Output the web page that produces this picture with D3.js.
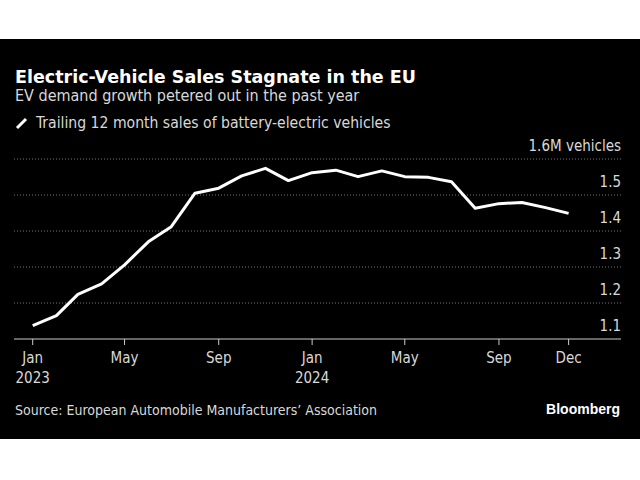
<!DOCTYPE html>
<html>
<head>
<meta charset="utf-8">
<script src="https://cdn.jsdelivr.net/npm/d3@7"></script>
<style>
  body { margin: 0; background: #fff; }
  text { font-family: "DejaVu Sans Condensed", "DejaVu Sans", sans-serif; }
</style>
</head>
<body>
<svg id="chart" width="640" height="480"></svg>
<script>
// dati: vendite trailing 12 mesi (milioni di veicoli)
const months = d3.range(24).map(i => new Date(2023, i, 1))
const sales = [1.137, 1.165, 1.224, 1.253, 1.306, 1.370, 1.412, 1.505, 1.519, 1.553, 1.574, 1.540,
               1.562, 1.569, 1.551, 1.567, 1.551, 1.549, 1.537, 1.463, 1.476, 1.479, 1.465, 1.449]
const yTicks = [1.1, 1.2, 1.3, 1.4, 1.5, 1.6]
const xTicks = [new Date(2023, 0, 1), new Date(2023, 4, 1), new Date(2023, 8, 1),
                new Date(2024, 0, 1), new Date(2024, 4, 1), new Date(2024, 8, 1), new Date(2024, 11, 1)]

const svg = d3.select('#chart')
const textColor = '#d9d9d9'

svg.append('rect').attr('x', 0).attr('y', 39).attr('width', 640).attr('height', 400).attr('fill', '#000')

const xScale = d3.scaleTime()
  .domain([new Date(2023, 0, 1), new Date(2024, 11, 1)])
  .range([32.7, 568.6])
const yScale = d3.scaleLinear()
  .domain([1.1, 1.6])
  .range([339, 159])

// titoli
svg.append('text').attr('x', 15).attr('y', 83).attr('fill', '#fff')
  .style('font-size', '17.5px').style('font-weight', 'bold').style('font-family', 'DejaVu Sans')
  .text('Electric-Vehicle Sales Stagnate in the EU')
svg.append('text').attr('x', 15).attr('y', 101).attr('fill', textColor)
  .style('font-size', '16px')
  .text('EV demand growth petered out in the past year')
svg.append('line').attr('x1', 17).attr('y1', 128).attr('x2', 26).attr('y2', 119)
  .attr('stroke', '#fff').attr('stroke-width', 3)
svg.append('text').attr('x', 36).attr('y', 128).attr('fill', textColor)
  .style('font-size', '15.6px')
  .text('Trailing 12 month sales of battery-electric vehicles')

// griglia
svg.selectAll('.grid').data(yTicks.slice(1)).join('line')
  .attr('x1', 14).attr('x2', 621)
  .attr('y1', d => yScale(d)).attr('y2', d => yScale(d))
  .attr('stroke', '#777').attr('stroke-dasharray', '1,2')

svg.selectAll('.ylab').data(yTicks).join('text')
  .attr('x', 621).attr('y', d => yScale(d) - 8)
  .attr('text-anchor', 'end').attr('fill', textColor)
  .style('font-size', '15px')
  .text(d => d === 1.6 ? '1.6M vehicles' : d3.format('.1f')(d))

// asse x
const xAxisGroup = svg.append('g')
  .attr('transform', `translate(0, 339)`)
xAxisGroup.append('line').attr('x1', 14).attr('x2', 621).attr('stroke', '#ccc')
xAxisGroup.selectAll('.tick').data(xTicks).join('line')
  .attr('x1', d => xScale(d)).attr('x2', d => xScale(d)).attr('y1', 0).attr('y2', 6)
  .attr('stroke', '#ccc')
xAxisGroup.selectAll('.xlab').data(xTicks).join('text')
  .attr('x', d => xScale(d)).attr('y', 24).attr('text-anchor', 'middle')
  .attr('fill', textColor).style('font-size', '15px')
  .text(d3.timeFormat('%b'))
xAxisGroup.selectAll('.ylab2').data(xTicks.filter(d => d.getMonth() === 0)).join('text')
  .attr('x', d => xScale(d)).attr('y', 44).attr('text-anchor', 'middle')
  .attr('fill', textColor).style('font-size', '15px')
  .text(d3.timeFormat('%Y'))

// linea
svg.append('path').datum(sales)
  .attr('fill', 'none').attr('stroke', '#fff').attr('stroke-width', 3)
  .attr('stroke-linejoin', 'round')
  .attr('d', d3.line().x((d, i) => xScale(months[i])).y(d => yScale(d)))

// fonte
svg.append('text').attr('x', 15).attr('y', 415).attr('fill', textColor)
  .style('font-size', '14px')
  .text('Source: European Automobile Manufacturers\u2019 Association')
svg.append('text').attr('x', 620).attr('y', 414).attr('text-anchor', 'end').attr('fill', '#fff')
  .style('font-size', '14px').style('font-weight', 'bold').style('font-family', 'Liberation Sans, Arial')
  .text('Bloomberg')
</script>
</body>
</html>
